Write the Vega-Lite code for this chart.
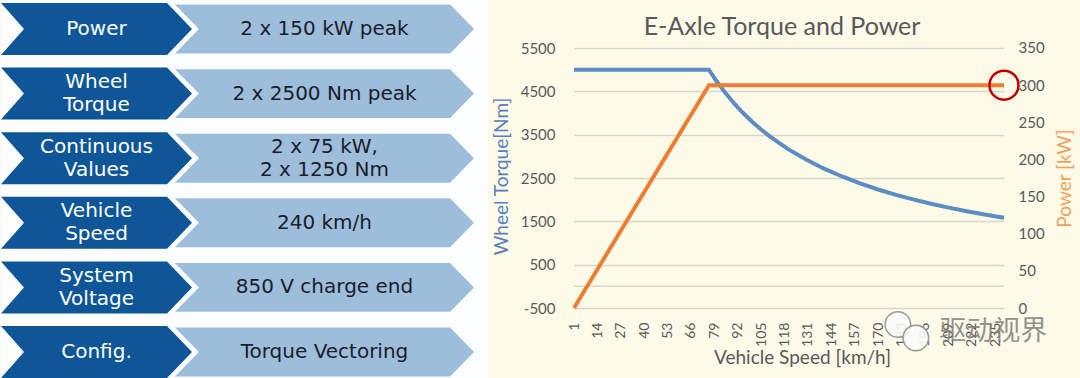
{
  "$schema": "https://vega.github.io/schema/vega-lite/v6.json",
  "background": "#fdfae8",
  "padding": {"left": 0, "top": 0, "right": 10, "bottom": 0},
  "spacing": 4,
  "config": {"view": {"stroke": null}, "font": "Lato"},
  "datasets": {
    "specs": [
      {"row": 1, "Parameter": "Power", "Value": "2 x 150 kW peak"},
      {"row": 2, "Parameter": "Wheel\nTorque", "Value": "2 x 2500 Nm peak"},
      {"row": 3, "Parameter": "Continuous\nValues", "Value": "2 x 75 kW,\n2 x 1250 Nm"},
      {"row": 4, "Parameter": "Vehicle\nSpeed", "Value": "240 km/h"},
      {"row": 5, "Parameter": "System\nVoltage", "Value": "850 V charge end"},
      {"row": 6, "Parameter": "Config.", "Value": "Torque Vectoring"}
    ],
    "curve": [
      {"speed": 1, "torque": 5000, "power": 0},
      {"speed": 76, "torque": 5000, "power": 300},
      {"speed": 80, "torque": 4750, "power": 300},
      {"speed": 85, "torque": 4470, "power": 300},
      {"speed": 90, "torque": 4220, "power": 300},
      {"speed": 95, "torque": 4000, "power": 300},
      {"speed": 100, "torque": 3800, "power": 300},
      {"speed": 105, "torque": 3620, "power": 300},
      {"speed": 110, "torque": 3455, "power": 300},
      {"speed": 120, "torque": 3165, "power": 300},
      {"speed": 130, "torque": 2925, "power": 300},
      {"speed": 140, "torque": 2715, "power": 300},
      {"speed": 150, "torque": 2535, "power": 300},
      {"speed": 160, "torque": 2375, "power": 300},
      {"speed": 170, "torque": 2235, "power": 300},
      {"speed": 180, "torque": 2110, "power": 300},
      {"speed": 190, "torque": 2000, "power": 300},
      {"speed": 200, "torque": 1900, "power": 300},
      {"speed": 210, "torque": 1810, "power": 300},
      {"speed": 220, "torque": 1725, "power": 300},
      {"speed": 230, "torque": 1650, "power": 300},
      {"speed": 240, "torque": 1585, "power": 300}
    ]
  },
  "hconcat": [
    {
      "width": 487,
      "height": 378,
      "view": {"fill": "#fcfdfe", "stroke": null},
      "data": {"name": "specs"},
      "transform": [{"fold": ["Parameter", "Value"], "as": ["col", "txt"]}],
      "encoding": {
        "x": {"field": "col", "type": "nominal", "scale": {"type": "point", "domain": ["Parameter", "Value"], "padding": 0.568, "align": 0.3687}, "axis": null},
        "y": {"field": "row", "type": "ordinal", "scale": {"type": "point", "domain": [1, 2, 3, 4, 5, 6], "padding": 0.4257, "align": 0.527}, "axis": null}
      },
      "layer": [
        {
          "mark": {"type": "point", "filled": true, "opacity": 1, "size": 2704, "strokeWidth": 0},
          "encoding": {
            "shape": {"field": "col", "type": "nominal", "scale": {"domain": ["Parameter", "Value"], "range": ["M-3.673,-1L2.712,-1L3.673,0L2.712,1L-3.673,1L-2.788,0Z", "M-5.75,-0.94L4.83,-0.94L5.75,0L4.83,0.94L-5.75,0.94L-4.83,0Z"]}, "legend": null},
            "color": {"field": "col", "type": "nominal", "scale": {"domain": ["Parameter", "Value"], "range": ["#0e5698", "#9cbedb"]}, "legend": null}
          }
        },
        {
          "transform": [{"filter": "indexof(datum.txt, '\\n') < 0"}],
          "mark": {"type": "text", "font": "DejaVu Sans", "fontSize": 20, "baseline": "middle", "align": "center"},
          "encoding": {
            "text": {"field": "txt"},
            "color": {"condition": {"test": "datum.col === 'Parameter'", "value": "#ffffff"}, "value": "#1c1c2a"}
          }
        },
        {
          "transform": [{"filter": "indexof(datum.txt, '\\n') >= 0"}],
          "mark": {"type": "text", "font": "DejaVu Sans", "fontSize": 20, "lineBreak": "\n", "lineHeight": 23, "baseline": "middle", "align": "center", "dy": -11.5},
          "encoding": {
            "text": {"field": "txt"},
            "color": {"condition": {"test": "datum.col === 'Parameter'", "value": "#ffffff"}, "value": "#1c1c2a"}
          }
        }
      ]
    },
    {
      "width": 430,
      "height": 308,
      "title": {"text": "E-Axle Torque and Power", "fontSize": 25, "font": "Lato", "color": "#595959", "fontWeight": "normal", "frame": "group", "baseline": "alphabetic", "offset": -60, "dx": -7, "anchor": "middle"},
      "data": {"name": "curve"},
      "layer": [
        {
          "layer": [
            {
              "data": {"values": [{"torque": 0}]},
              "mark": {"type": "rule", "color": "#d9d7cc", "strokeWidth": 1.5},
              "encoding": {"y": {"field": "torque", "type": "quantitative", "scale": {"domain": [-500, 6607.7], "nice": false, "zero": false}}}
            },
            {
              "mark": {"type": "line", "color": "#5b8cc2", "strokeWidth": 4},
              "encoding": {
                "x": {"field": "speed", "type": "quantitative", "scale": {"domain": [1, 240], "nice": false, "zero": false},
                  "axis": {"values": [1, 14, 27, 40, 53, 66, 79, 92, 105, 118, 131, 144, 157, 170, 183, 196, 209, 222, 235], "tickCount": 100, "labelAngle": -90, "labelFontSize": 14, "labelColor": "#595959", "labelPadding": 14, "ticks": false, "tickSize": 0, "domain": false, "grid": false, "labelFlush": false, "labelOverlap": false, "labelBound": false, "title": "Vehicle Speed [km/h]", "titleFontSize": 19, "titleFontWeight": "normal", "titleColor": "#595959", "titlePadding": 2, "titleX": 228, "minExtent": 38, "maxExtent": 38}},
                "y": {"field": "torque", "type": "quantitative", "scale": {"domain": [-500, 6607.7], "nice": false, "zero": false},
                  "axis": {"values": [-500, 500, 1500, 2500, 3500, 4500, 5500], "tickCount": 100, "labelOverlap": false, "labelExpr": "'' + datum.value", "grid": true, "gridColor": "#d9d7cc", "gridWidth": 1.5, "domain": false, "ticks": false, "tickSize": 0, "labelFontSize": 15, "labelColor": "#595959", "labelPadding": 19, "title": "Wheel Torque[Nm]", "titleColor": "#5a80bb", "titleFontSize": 19, "titleFontWeight": "normal", "titlePadding": 9, "titleY": 176, "minExtent": 54, "maxExtent": 54}}
              }
            },
            {
              "data": {"values": [{"bubble": "a", "speed": 181, "torque": -880}, {"bubble": "b", "speed": 191, "torque": -1190}]},
              "mark": {"type": "point", "shape": "circle", "size": 650, "filled": false, "fill": "#fbfbf8", "fillOpacity": 0.9, "stroke": "#9a9a9a", "strokeWidth": 1.5, "opacity": 1},
              "encoding": {
                "x": {"field": "speed", "type": "quantitative"},
                "y": {"field": "torque", "type": "quantitative"}
              }
            },
            {
              "data": {"values": [{"name": "驱动视界"}]},
              "mark": {"type": "text", "font": "Noto Sans CJK SC", "fontSize": 27, "color": "#808080", "opacity": 0.85, "baseline": "middle", "align": "center"},
              "encoding": {
                "text": {"field": "name"},
                "x": {"datum": 234, "type": "quantitative"},
                "y": {"datum": -1054, "type": "quantitative"}
              }
            }
          ]
        },
        {
          "layer": [
            {
              "mark": {"type": "line", "color": "#ed7d31", "strokeWidth": 4},
              "encoding": {
                "x": {"field": "speed", "type": "quantitative"},
                "y": {"field": "power", "type": "quantitative", "scale": {"domain": [0, 414.6], "nice": false, "zero": false},
                  "axis": {"orient": "right", "values": [0, 50, 100, 150, 200, 250, 300, 350], "tickCount": 100, "labelOverlap": false, "grid": false, "domain": false, "ticks": false, "tickSize": 0, "labelFontSize": 15, "labelColor": "#595959", "labelPadding": 14, "title": "Power [kW]", "titleColor": "#f2a05c", "titleFontSize": 19, "titleFontWeight": "normal", "titleAngle": 270, "titleBaseline": "top", "titlePadding": 11, "titleY": 178, "minExtent": 40, "maxExtent": 40}}
              }
            },
            {
              "data": {"values": [{"speed": 240, "power": 300}]},
              "mark": {"type": "point", "shape": "circle", "size": 841, "filled": false, "stroke": "#c00000", "strokeWidth": 2.5, "opacity": 1},
              "encoding": {
                "x": {"field": "speed", "type": "quantitative"},
                "y": {"field": "power", "type": "quantitative"}
              }
            }
          ]
        }
      ],
      "resolve": {"scale": {"y": "independent"}}
    }
  ]
}
